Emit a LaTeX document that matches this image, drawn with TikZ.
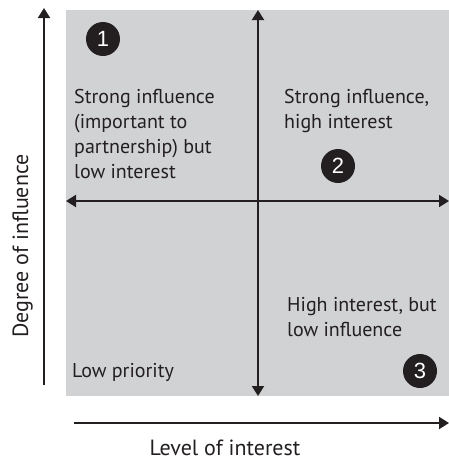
\documentclass[tikz,border=0pt]{standalone}
\usepackage{fontspec}
\setmainfont{PT Sans}
\newfontfamily\numfont{Liberation Sans}
\usetikzlibrary{arrows.meta}
\definecolor{panel}{HTML}{D1D2D4}
\definecolor{ink}{HTML}{231F20}
\tikzset{
  tip/.style={-{Triangle[length=10pt,width=12pt]}},
  axis/.style={line width=2pt, draw=ink, tip},
  biaxis/.style={line width=2pt, draw=ink, {Triangle[length=10pt,width=12pt]}-{Triangle[length=10pt,width=12pt]}},
  lbl/.style={align=left, anchor=north west, inner sep=0pt, font=\fontsize{20}{25}\selectfont, text=ink},
  axlbl/.style={anchor=base, inner sep=0pt, font=\fontsize{22}{22}\selectfont, text=ink},
  badge/.style={circle, fill=ink, text=white, minimum size=34pt, inner sep=0pt, font=\numfont\fontsize{22}{22}\selectfont}
}
\begin{document}
\begin{tikzpicture}[x=1pt,y=-1pt]
\useasboundingbox (0,0) rectangle (449,461);
\fill[panel] (66,10) rectangle (449,396);
% coordinates
\coordinate (vb) at (44,385);
\coordinate (vt) at (44,8);
\coordinate (ct) at (258,10);
\coordinate (cb) at (258,396);
\coordinate (ml) at (66,201);
\coordinate (mr) at (449,201);
\coordinate (hl) at (74,423);
\coordinate (hr) at (449,423);
\draw[axis] (vb) -- (vt);
\draw[biaxis] (cb) -- (ct);
\draw[biaxis] (ml) -- (mr);
\draw[axis] (hl) -- (hr);
% badges
\node[badge] (b1) at (103,39) {1};
\node[badge] (b2) at (338,166) {2};
\node[badge] (b3) at (420,371) {3};
% labels
\node[lbl] (q1) at (74,89.5) {Strong influence\\(important to\\partnership) but\\low interest};
\node[lbl] (q2) at (284,89.5) {Strong influence,\\high interest};
\node[lbl] (q3) at (287,297.5) {High interest, but\\low influence};
\node[lbl] (q4) at (72,363.5) {Low priority};
\node[axlbl] (xl) at (225,455) {Level of interest};
\node[axlbl, rotate=90] (yl) at (28,246) {Degree of influence};
\end{tikzpicture}
\end{document}
